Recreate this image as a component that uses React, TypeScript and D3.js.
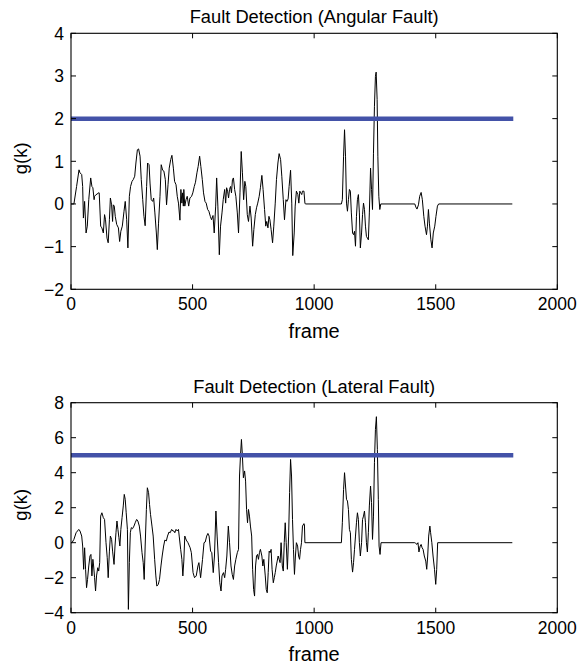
import React from "react";
import * as d3 from "d3";

// ---------- data (frame, g(k)) ----------
const angularFault: [number, number][] = [
  [0, 0], [4, 0], [12, 0], [23, 0.41], [33, 0.8], [37, 0.73], [44, 0.69], [48, 0.41], [51, -0.33], [56, 0.06],
  [62, -0.68], [67, -0.52], [73, 0.1], [81, 0.61], [86, 0.41], [90, 0.38], [95, 0.1], [97, 0.18], [103, 0.22],
  [108, 0.23], [112, 0.26], [116, 0.26], [122, -0.52], [127, -0.56], [133, -0.68], [138, -0.25], [142, -0.37],
  [148, -0.8], [153, -0.91], [158, -0.37], [162, 0.14], [167, -0.02], [171, -0.41], [174, -0.02], [178, -0.05],
  [182, -0.29], [188, -0.48], [195, -0.56], [200, -0.88], [205, -0.64], [211, -0.52], [218, -0.17], [223, 0.06],
  [229, -0.37], [234, -1.03], [240, 0.18], [245, 0.41], [251, 0.53], [256, 0.57], [262, 0.65], [267, 0.96],
  [273, 1.27], [278, 1.29], [284, 1.12], [289, 0.57], [295, 0.1], [300, -0.29], [305, -0.51], [311, 0.41],
  [315, 0.96], [321, 0.92], [325, 0.49], [330, 0.1], [336, 0.06], [340, 0.14], [345, -0.21], [351, -0.68],
  [355, -1.07], [360, -0.45], [366, 0.18], [371, 0.92], [377, 0.79], [382, 0.77], [388, 0.57], [393, -0.02],
  [399, 0.45], [404, 0.84], [410, 1.04], [415, 1.14], [421, 0.84], [426, 0.53], [432, 0.45], [437, 0.18],
  [442, 0.02], [448, -0.38], [452, 0.34], [456, 0.02], [459, 0.26], [462, -0.05], [464, 0.34], [468, -0.05],
  [473, 0.1], [478, 0.18], [484, -0.05], [489, 0.14], [496, 0.18], [501, 0.26], [507, 0.41], [512, 0.51],
  [518, 0.73], [523, 0.88], [529, 1.12], [534, 0.88], [540, 0.57], [545, 0.26], [551, 0.06], [556, 0.02],
  [562, -0.13], [567, -0.17], [573, -0.29], [578, -0.37], [584, -0.27], [589, -0.68], [595, -0.05], [599, 0.61],
  [604, -0.05], [610, -1.19], [615, -0.52], [621, -0.21], [626, 0.1], [632, 0.34], [636, 0.02], [640, 0.38],
  [644, 0.3], [648, 0.14], [652, 0.34], [656, 0.41], [660, 0.26], [664, 0.57], [668, 0.61], [673, 0.34],
  [678, 0.18], [684, -0.21], [689, -0.68], [695, 0.26], [700, 1.23], [705, 0.73], [710, 0.1], [715, 0.53],
  [719, 0.41], [725, -0.25], [730, -0.41], [736, -0.05], [741, -0.33], [747, -0.99], [752, -0.6], [758, -0.25],
  [763, -0.09], [768, 0.02], [774, 0.18], [779, 0.38], [785, 0.67], [790, 0.34], [796, -0.13], [801, -0.52],
  [805, -0.41], [810, -0.56], [814, -0.29], [818, -0.37], [823, -0.6], [829, -0.91], [834, -0.52], [840, 0.02],
  [845, 0.57], [851, 0.96], [856, 1.18], [862, 1.04], [867, 0.65], [873, 0.1], [878, -0.37], [884, 0.1],
  [888, 0.06], [893, 0.12], [897, 0.41], [903, 0.79], [908, 0.02], [912, -1.21], [918, -0.68], [922, -0.05],
  [927, 0.3], [933, 0.22], [937, 0.02], [941, 0.3], [945, 0.26], [949, 0.22], [952, 0.3], [958, 0.3],
  [962, 0.02], [964, 0], [1112, 0], [1116, 0.1], [1121, 1.12], [1125, 1.74], [1129, 1.12], [1133, 0.02],
  [1137, -0.17], [1141, 0.1], [1145, 0.34], [1149, 0.3], [1153, -0.21], [1158, -0.68], [1162, -0.72],
  [1166, -0.64], [1170, -0.99], [1174, -0.29], [1178, 0.1], [1182, 0.22], [1186, -0.21], [1190, -1.03],
  [1195, -0.68], [1199, -0.25], [1203, 0.02], [1207, -0.13], [1211, -0.52], [1215, -0.76], [1219, -0.8],
  [1223, -0.84], [1227, -0.21], [1232, 0.84], [1236, 0.34], [1240, -0.13], [1244, 1.19], [1248, 2.29],
  [1252, 2.99], [1255, 3.09], [1259, 2.45], [1262, 1.12], [1266, 0.18], [1270, -0.13], [1274, 0], [1414, 0],
  [1418, -0.07], [1423, -0.12], [1429, -0.02], [1434, 0.18], [1440, 0.27], [1445, 0.1], [1451, -0.29],
  [1456, -0.52], [1462, -0.72], [1466, -0.52], [1470, -0.13], [1474, -0.45], [1480, -0.84], [1485, -1.03],
  [1490, -0.68], [1496, -0.52], [1501, -0.29], [1507, -0.05], [1512, 0], [1815, 0],
];

const lateralFault: [number, number][] = [
  [0, 0], [4, 0], [12, 0.19], [21, 0.57], [32, 0.76], [37, 0.67], [44, 0.38], [48, -0.19], [52, -1.52],
  [56, -0.29], [60, -1.52], [64, -2.57], [68, -2.1], [73, -1.33], [78, -0.76], [82, -0.67], [86, -1.9],
  [90, -0.95], [93, -1.33], [97, -2.0], [101, -2.76], [105, -1.9], [110, -1.43], [114, -1.62], [118, -1.14],
  [122, 1.52], [127, 1.71], [133, 1.43], [138, 1.33], [144, 0], [149, -0.86], [153, -2.0], [158, -0.48],
  [162, 0.38], [167, 0.19], [171, -0.48], [177, -1.24], [181, -0.19], [185, 0.57], [189, 1.24], [193, 0.76],
  [197, 0.29], [201, -0.19], [205, 0.76], [210, 1.43], [215, 2.1], [219, 2.76], [223, 2.48], [227, 1.71],
  [232, 0.76], [236, -3.81], [240, -1.14], [244, 0.57], [248, 0.86], [253, 0.8], [259, 0.95], [264, 1.14],
  [270, 1.33], [275, 1.24], [281, 0.95], [286, 0.38], [292, -0.57], [297, -1.14], [301, -2.1], [305, -0.19],
  [310, 1.9], [314, 3.14], [319, 2.86], [323, 2.19], [327, 1.62], [333, 0.95], [338, 0.38], [344, -0.95],
  [349, -1.9], [353, -2.48], [359, -2.38], [364, -2.1], [370, -1.33], [375, -0.76], [381, -0.19], [386, 0.15],
  [392, 0.1], [397, 0.38], [403, 0.61], [408, 0.57], [414, 0.76], [419, 0.67], [423, 0.67], [427, 0.57],
  [432, 0.76], [437, 0.67], [442, 0.76], [445, 0.38], [451, -0.38], [456, -0.95], [460, -1.9], [464, -1.05],
  [468, 0.38], [474, 0.15], [481, 0.0], [490, -0.29], [495, -0.57], [502, -1.71], [508, -2.0], [515, -1.9],
  [522, -1.33], [526, -1.14], [533, -2.0], [541, -0.95], [547, 0], [552, 0.04], [558, 0.38], [563, 0.53],
  [568, 0.38], [574, -0.48], [579, -0.57], [585, -1.71], [590, -0.76], [596, 1.81], [601, 0.38], [607, -1.14],
  [612, -2.29], [617, -2.76], [621, -1.9], [627, -1.71], [632, -2.0], [636, -1.52], [641, -0.76], [647, 0.95],
  [652, 0], [658, -1.33], [663, -1.81], [668, -2.1], [673, -1.33], [678, -0.95], [684, -0.57], [689, -0.38],
  [693, 3.81], [697, 4.95], [701, 5.9], [705, 4.95], [709, 3.71], [714, 4.1], [718, 3.52], [722, 1.9],
  [726, 1.14], [730, 1.9], [734, 1.52], [738, 0.95], [743, 0.38], [747, -1.52], [751, -2.67], [755, -3.05],
  [759, -1.33], [763, -0.76], [767, -0.67], [771, -0.95], [775, -0.57], [779, -0.38], [785, -0.76],
  [789, -1.33], [793, -0.95], [799, -1.9], [803, -2.67], [807, -2.86], [811, -1.71], [815, -0.48],
  [819, -0.57], [823, -0.38], [827, -1.52], [832, -2.29], [836, -2.0], [840, -1.71], [844, -1.33],
  [848, -1.05], [852, -0.76], [856, -0.95], [860, -1.14], [864, 0], [869, -1.33], [873, -1.62], [877, 0],
  [881, 1.14], [885, 0], [890, -1.52], [895, 0.38], [899, 2.86], [903, 4.76], [907, 3.81], [911, 1.33],
  [915, -0.38], [919, -1.81], [923, -0.76], [927, 0], [932, -0.19], [936, -0.76], [940, -0.95], [944, -0.38],
  [948, 0], [952, 0.95], [958, 1.09], [960, 1.05], [962, 0], [1112, 0], [1116, 1.14], [1121, 3.05],
  [1125, 4.0], [1129, 3.24], [1133, 2.48], [1137, 2.38], [1141, 1.9], [1145, 0.76], [1149, 0.57],
  [1153, -0.95], [1158, -1.68], [1162, -1.14], [1166, -0.38], [1170, 0.38], [1174, 1.14], [1178, 1.71],
  [1182, 1.33], [1186, 0], [1190, -0.76], [1195, 0], [1199, 1.33], [1203, 1.52], [1207, 1.81], [1211, 1.14],
  [1215, 0], [1219, -0.53], [1223, 0.57], [1227, 2.1], [1232, 3.24], [1236, 2.29], [1240, 0.19], [1244, 1.52],
  [1248, 4.57], [1252, 6.48], [1256, 7.2], [1260, 5.33], [1264, 2.48], [1267, -0.19], [1271, -0.67],
  [1275, 0], [1414, 0], [1418, -0.04], [1423, -0.1], [1427, 0], [1431, -0.53], [1436, -0.19], [1440, -0.1],
  [1444, -0.29], [1448, -0.38], [1453, -0.76], [1459, -1.05], [1463, -1.52], [1467, -0.76], [1471, 0.38],
  [1476, 0.95], [1479, 0.57], [1484, 0], [1489, -0.76], [1495, -1.52], [1500, -2.38], [1504, -1.52],
  [1508, 0], [1815, 0],
];

const titles = ["Fault Detection (Angular Fault)", "Fault Detection (Lateral Fault)"];
const thresholds = [2, 5];
const thresholdSpan: [number, number] = [0, 1819];
const xDomain: [number, number] = [0, 2000];
const xTicks = [0, 500, 1000, 1500, 2000];
const yDomains: [number, number][] = [[-2, 4], [-4, 8]];
const yTicksList = [[-2, -1, 0, 1, 2, 3, 4], [-4, -2, 0, 2, 4, 6, 8]];
const xLabel = "frame";
const yLabel = "g(k)";

const FONT = "'Liberation Sans', Arial, Helvetica, sans-serif";

type PanelProps = {
  top: number;
  bottom: number;
  data: [number, number][];
  yDomain: [number, number];
  yTicks: number[];
  threshold: number;
  title: string;
};

const LEFT = 71;
const RIGHT = 557.3;
const TICK = 5;

function fmt(v: number) {
  return v < 0 ? "\u2212" + Math.abs(v) : String(v);
}

function Panel({ top, bottom, data, yDomain, yTicks, threshold, title }: PanelProps) {
  const x = d3.scaleLinear().domain(xDomain).range([LEFT, RIGHT]);
  const y = d3.scaleLinear().domain(yDomain).range([bottom, top]);
  const line = d3
    .line<[number, number]>()
    .x((d) => x(d[0]))
    .y((d) => y(d[1]));
  const cx = (LEFT + RIGHT) / 2;
  const cy = (top + bottom) / 2;
  return (
    <g>
      <text x={cx} y={top - 10} textAnchor="middle" fontFamily={FONT} fontSize={18.3} fill="#000">
        {title}
      </text>
      <path d={line(data) || ""} fill="none" stroke="#000" strokeWidth={1} strokeLinejoin="round" />
      <line
        x1={x(thresholdSpan[0])}
        x2={x(thresholdSpan[1])}
        y1={y(threshold)}
        y2={y(threshold)}
        stroke="#4352A8"
        strokeWidth={4.5}
      />
      <rect x={LEFT} y={top} width={RIGHT - LEFT} height={bottom - top} fill="none" stroke="#000" strokeWidth={1.1} />
      {xTicks.map((t) => (
        <g key={"x" + t}>
          <line x1={x(t)} x2={x(t)} y1={bottom} y2={bottom - TICK} stroke="#000" strokeWidth={1} />
          <line x1={x(t)} x2={x(t)} y1={top} y2={top + TICK} stroke="#000" strokeWidth={1} />
          <text x={x(t)} y={bottom + 21} textAnchor="middle" fontFamily={FONT} fontSize={17.5} fill="#000">
            {fmt(t)}
          </text>
        </g>
      ))}
      {yTicks.map((t) => (
        <g key={"y" + t}>
          <line x1={LEFT} x2={LEFT + TICK} y1={y(t)} y2={y(t)} stroke="#000" strokeWidth={1} />
          <line x1={RIGHT} x2={RIGHT - TICK} y1={y(t)} y2={y(t)} stroke="#000" strokeWidth={1} />
          <text
            x={LEFT - 7}
            y={y(t) + 6.5}
            textAnchor="end"
            fontFamily={FONT}
            fontSize={17.5}
            fill="#000"
          >
            {fmt(t)}
          </text>
        </g>
      ))}
      <text x={cx} y={bottom + 48.5} textAnchor="middle" fontFamily={FONT} fontSize={20} fill="#000">
        {xLabel}
      </text>
      <text
        transform={`translate(27, ${cy - 3}) rotate(-90)`}
        textAnchor="middle"
        fontFamily={FONT}
        fontSize={18.5}
        fill="#000"
      >
        {yLabel}
      </text>
    </g>
  );
}

export default function App() {
  return (
    <svg
      width={584}
      height={664}
      viewBox="0 0 584 664"
      style={{ position: "absolute", left: 0, top: 0, background: "#fff" }}
    >
      <rect width={584} height={664} fill="#fff" />
      <Panel
        top={33.3}
        bottom={289.3}
        data={angularFault}
        yDomain={yDomains[0]}
        yTicks={yTicksList[0]}
        threshold={thresholds[0]}
        title={titles[0]}
      />
      <Panel
        top={402.7}
        bottom={612.7}
        data={lateralFault}
        yDomain={yDomains[1]}
        yTicks={yTicksList[1]}
        threshold={thresholds[1]}
        title={titles[1]}
      />
    </svg>
  );
}
